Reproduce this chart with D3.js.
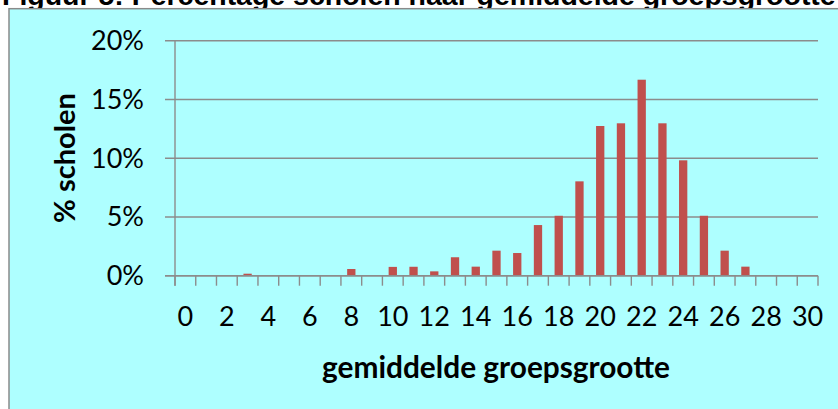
<!DOCTYPE html>
<html>
<head>
<meta charset="utf-8">
<script src="https://cdn.jsdelivr.net/npm/d3@7"></script>
<style>
html,body{margin:0;padding:0;background:#fff;overflow:hidden;}
svg{display:block;}
</style>
</head>
<body>
<svg id="chart" width="838" height="409"></svg>
<script>
// ---- data ----
const categories = d3.range(0, 31).map(String);
const values = [0, 0, 0, 0.17, 0, 0, 0, 0, 0.57, 0, 0.75, 0.76, 0.37, 1.57, 0.77, 2.13, 1.93, 4.31, 5.1, 8.03, 12.74, 12.97, 16.68, 12.97, 9.82, 5.1, 2.13, 0.77, 0, 0, 0];
const yTicks = [0, 5, 10, 15, 20];
const xTickLabels = categories.filter((d, i) => i % 2 === 0);
const titleText = "Figuur 5: Percentage scholen naar gemiddelde groepsgrootte";
const xTitle = "gemiddelde groepsgrootte";
const yTitle = "% scholen";

(function () {
const svg = d3.select("#chart");
const W = 838, H = 409;
const gray = "#8c8c8c";
const font = "Lato, 'Open Sans', sans-serif";

function fit(sel, target) {
  const fs = +sel.attr("font-size");
  const w = sel.node().getComputedTextLength();
  if (w > 0) sel.attr("font-size", fs * target / w);
}

// title (cut off at top, as in the reference)
const tt = svg.append("text")
  .attr("x", 2).attr("y", 5)
  .attr("font-family", "'Liberation Sans', Arial, sans-serif")
  .attr("font-weight", "bold")
  .attr("font-size", 26)
  .attr("fill", "#000")
  .text(titleText);
fit(tt, 834);

// chart area
svg.append("rect")
  .attr("x", 9).attr("y", 8.7)
  .attr("width", W).attr("height", H)
  .attr("fill", "#aeffff")
  .attr("stroke", "#8a8a8a").attr("stroke-width", 1.5);

const pLeft = 175, pRight = 818, pTop = 40.7, pBottom = 275.7;

const x = d3.scaleBand().domain(categories).range([pLeft, pRight])
  .paddingInner(0.6).paddingOuter(0.3);
const y = d3.scaleLinear().domain([0, 20]).range([pBottom, pTop]);

// bars
svg.append("g").selectAll("rect").data(values).join("rect")
  .attr("x", (d, i) => x(categories[i]))
  .attr("width", x.bandwidth())
  .attr("y", d => y(d))
  .attr("height", d => y(0) - y(d))
  .attr("fill", "#c0504d");

// gridlines + y ticks (behind bars)
const g = svg.insert("g", "g");
g.selectAll("line.grid").data(yTicks).join("line")
  .attr("class", "grid")
  .attr("x1", pLeft - 10).attr("x2", pRight)
  .attr("y1", d => y(d)).attr("y2", d => y(d))
  .attr("stroke", gray).attr("stroke-width", 1.4);

// axes on top of bars
const ga = svg.append("g");
ga.append("line")
  .attr("x1", pLeft - 10).attr("x2", pRight)
  .attr("y1", y(0)).attr("y2", y(0))
  .attr("stroke", gray).attr("stroke-width", 1.4);
ga.append("line")
  .attr("x1", pLeft).attr("x2", pLeft)
  .attr("y1", pTop).attr("y2", pBottom + 10)
  .attr("stroke", gray).attr("stroke-width", 1.4);

// x ticks at category boundaries
const step = x.step();
const boundaries = categories.map(c => x(c) - step * x.paddingInner() / 2);
boundaries.push(x(categories[categories.length - 1]) + x.bandwidth() + step * x.paddingInner() / 2);
ga.selectAll("line.xt").data(boundaries).join("line")
  .attr("class", "xt")
  .attr("x1", d => d).attr("x2", d => d)
  .attr("y1", pBottom).attr("y2", pBottom + 10)
  .attr("stroke", gray).attr("stroke-width", 1.4);

// y tick labels
svg.append("g").selectAll("text").data(yTicks).join("text")
  .attr("x", 144).attr("y", d => y(d) + 9.3)
  .attr("text-anchor", "end")
  .attr("font-family", font).attr("font-size", 27)
  .attr("fill", "#000")
  .text(d => d + "%");

// x tick labels
svg.append("g").selectAll("text").data(xTickLabels).join("text")
  .attr("x", d => x(d) + x.bandwidth() / 2)
  .attr("y", 326)
  .attr("text-anchor", "middle")
  .attr("font-family", font).attr("font-size", 27)
  .attr("fill", "#000")
  .text(d => d);

// x title
const xt = svg.append("text")
  .attr("x", 496).attr("y", 378)
  .attr("text-anchor", "middle")
  .attr("font-family", font).attr("font-weight", "bold").attr("font-size", 28)
  .attr("fill", "#000")
  .text(xTitle);
fit(xt, 348);

// y title
const yt = svg.append("text")
  .attr("transform", "translate(75,158) rotate(-90)")
  .attr("text-anchor", "middle")
  .attr("font-family", font).attr("font-weight", "bold").attr("font-size", 28)
  .attr("fill", "#000")
  .text(yTitle);
fit(yt, 130);
})();
</script>
</body>
</html>
